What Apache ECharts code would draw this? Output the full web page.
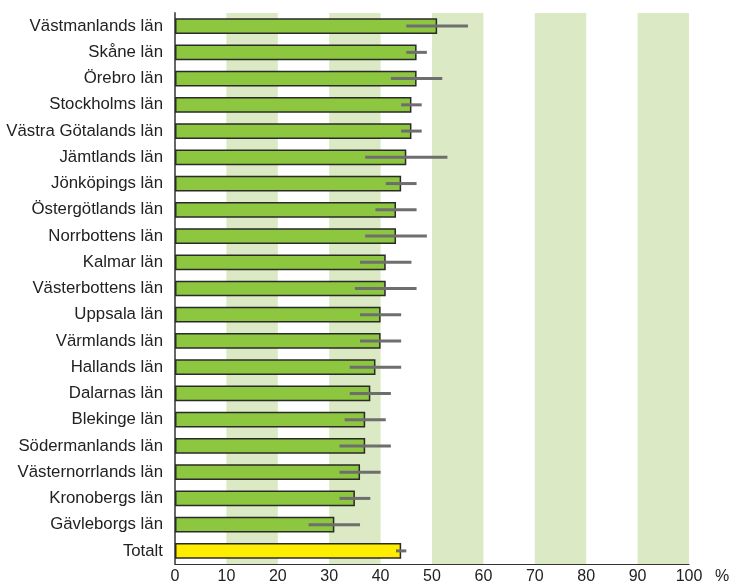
<!DOCTYPE html>
<html>
<head>
<meta charset="utf-8">
<script src="https://cdn.jsdelivr.net/npm/echarts@6/dist/echarts.min.js"></script>
<style>
html,body{margin:0;padding:0;background:#fff;}
#chart{width:734px;height:585px;}
</style>
</head>
<body>
<div id="chart"></div>
<script>
// län, värde och konfidensintervall (låg / hög)
var categories = ['Västmanlands län','Skåne län','Örebro län','Stockholms län','Västra Götalands län',
  'Jämtlands län','Jönköpings län','Östergötlands län','Norrbottens län','Kalmar län',
  'Västerbottens län','Uppsala län','Värmlands län','Hallands län','Dalarnas län',
  'Blekinge län','Södermanlands län','Västernorrlands län','Kronobergs län','Gävleborgs län','Totalt'];
var values = [51,47,47,46,46,45,44,43,43,41,41,40,40,39,38,37,37,36,35,31,44];
var lows   = [45,45,42,44,44,37,41,39,37,36,35,36,36,34,34,33,32,32,32,26,43];
var highs  = [57,49,52,48,48,53,47,47,49,46,47,44,44,44,42,41,42,40,38,36,45];
var xTicks = [0,10,20,30,40,50,60,70,80,90,100];

var barData = values.map(function(v, i){
  if (categories[i] === 'Totalt') {
    return {value: v, itemStyle: {color: '#ffed00'}};
  }
  return v;
});
var errData = lows.map(function(l, i){ return [l, highs[i], i]; });

var chart = echarts.init(document.getElementById('chart'));
var option = {
  animation: false,
  grid: {left: 175, right: 45, top: 13, bottom: 18},
  xAxis: {
    type: 'value',
    min: 0, max: 100, interval: 10,
    name: '%',
    nameLocation: 'end',
    nameGap: 26,
    nameTextStyle: {fontFamily: 'Liberation Sans', fontSize: 16, color: '#222', verticalAlign: 'top', padding: [5,0,0,0]},
    axisLine: {show: true, lineStyle: {color: '#333', width: 1}},
    axisTick: {show: false},
    axisLabel: {fontFamily: 'Liberation Sans', fontSize: 16, color: '#222', margin: 5,
      formatter: function(v){ return xTicks.indexOf(v) >= 0 ? String(v) : ''; }},
    splitLine: {show: false},
    splitArea: {show: true, areaStyle: {color: ['rgba(0,0,0,0)', '#dbe9c4']}}
  },
  yAxis: {
    type: 'category',
    data: categories,
    inverse: true,
    axisLine: {show: true, lineStyle: {color: '#666', width: 2}},
    axisTick: {show: false},
    axisLabel: {fontFamily: 'Liberation Sans', fontSize: 16.8, color: '#222', margin: 12}
  },
  series: [
    {
      type: 'bar',
      data: barData,
      barCategoryGap: '40%',
      itemStyle: {color: '#8dc63f', borderColor: '#2a2a2a', borderWidth: 1.5},
      z: 2
    },
    {
      type: 'custom',
      data: errData,
      z: 3,
      renderItem: function(params, api){
        var idx = api.value(2);
        var p1 = api.coord([api.value(0), idx]);
        var p2 = api.coord([api.value(1), idx]);
        return {
          type: 'line',
          shape: {x1: p1[0], y1: p1[1], x2: p2[0], y2: p2[1]},
          style: {stroke: '#6e6e6e', lineWidth: 3}
        };
      }
    }
  ]
};
chart.setOption(option);
</script>
</body>
</html>
